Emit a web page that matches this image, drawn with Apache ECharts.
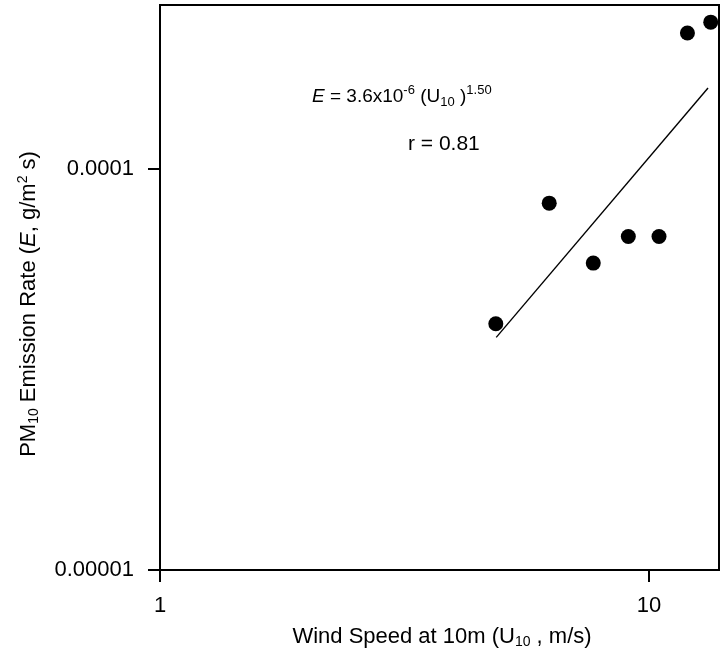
<!DOCTYPE html>
<html>
<head>
<meta charset="utf-8">
<script src="https://cdn.jsdelivr.net/npm/echarts@6/dist/echarts.min.js"></script>
<style>
html,body{margin:0;padding:0;background:#fff;}
#chart{width:725px;height:663px;}
</style>
</head>
<body>
<div id="chart"></div>
<script>
// ---- data ----
var windSpeed = [4.86, 6.25, 7.69, 9.07, 10.48, 11.98, 13.37];
var emission  = [4.11e-5, 8.21e-5, 5.82e-5, 6.78e-5, 6.78e-5, 2.18e-4, 2.32e-4];
// fitted power-law line endpoints (as drawn in the picture)
var fitX = [4.87, 13.2];
var fitY = [3.80e-5, 1.59e-4];
// axis ticks
var xTickValues = [1, 10];
var xTickLabels = ['1', '10'];
var yTickValues = [0.00001, 0.0001];
var yTickLabels = ['0.00001', '0.0001'];
var xRange = [1, 13.9];
var yRange = [0.00001, 0.000256];

function labelFor(values, labels) {
  return function (v) {
    for (var i = 0; i < values.length; i++) {
      if (Math.abs(v - values[i]) <= values[i] * 1e-6) return labels[i];
    }
    return '';
  };
}

var FONT = '"Liberation Sans", Arial, sans-serif';
var chart = echarts.init(document.getElementById('chart'), null, {renderer: 'canvas'});

var subStyle = {fontSize: 14, fontFamily: FONT, fill: '#000', padding: [11, 0, 0, 0]};
var supStyle = {fontSize: 14, fontFamily: FONT, fill: '#000', padding: [0, 0, 11, 0]};
var eqSub = {fontSize: 13, fontFamily: FONT, fill: '#000', padding: [11, 0, 0, 0]};
var eqSup = {fontSize: 13, fontFamily: FONT, fill: '#000', padding: [0, 0, 13, 0]};

var option = {
  animation: false,
  backgroundColor: '#fff',
  grid: {
    left: 160, top: 5, right: 6, bottom: 93,
    show: true, borderColor: '#000', borderWidth: 2, backgroundColor: 'transparent'
  },
  xAxis: {
    type: 'log', logBase: 10, min: xRange[0], max: xRange[1],
    axisLine: {show: true, onZero: false, lineStyle: {color: '#000', width: 2}},
    axisTick: {show: true, inside: false, length: 12, customValues: xTickValues, lineStyle: {color: '#000', width: 2}},
    minorTick: {show: false},
    splitLine: {show: false},
    axisLabel: {customValues: xTickValues, formatter: labelFor(xTickValues, xTickLabels),
      color: '#000', fontFamily: FONT, fontSize: 22, margin: 25, showMinLabel: true, showMaxLabel: true}
  },
  yAxis: {
    type: 'log', logBase: 10, min: yRange[0], max: yRange[1],
    axisLine: {show: true, onZero: false, lineStyle: {color: '#000', width: 2}},
    axisTick: {show: true, inside: false, length: 12, customValues: yTickValues, lineStyle: {color: '#000', width: 2}},
    minorTick: {show: false},
    splitLine: {show: false},
    axisLabel: {customValues: yTickValues, formatter: labelFor(yTickValues, yTickLabels),
      color: '#000', fontFamily: FONT, fontSize: 22, margin: 26, showMinLabel: true, showMaxLabel: true}
  },
  series: [
    {
      type: 'scatter',
      data: windSpeed.map(function (x, i) { return [x, emission[i]]; }),
      symbol: 'circle', symbolSize: 15,
      itemStyle: {color: '#000', opacity: 1},
      z: 3
    },
    {
      type: 'line',
      data: fitX.map(function (x, i) { return [x, fitY[i]]; }),
      showSymbol: false, symbol: 'none',
      lineStyle: {color: '#000', width: 1.4},
      z: 2
    }
  ],
  graphic: [
    {
      type: 'text', x: 442, y: 637,
      style: {
        text: 'Wind Speed at 10m (U{sub|10} , m/s)',
        font: '22px ' + FONT, fill: '#000', align: 'center', verticalAlign: 'middle',
        rich: {sub: subStyle}
      }
    },
    {
      type: 'text', x: 29, y: 304, rotation: Math.PI / 2,
      style: {
        text: 'PM{sub|10} Emission Rate ({it|E}, g/m{sup|2} s)',
        font: '22px ' + FONT, fill: '#000', align: 'center', verticalAlign: 'middle',
        rich: {
          sub: subStyle,
          sup: supStyle,
          it: {fontSize: 22, fontFamily: FONT, fontStyle: 'italic', fill: '#000'}
        }
      }
    },
    {
      type: 'text', x: 312, y: 97,
      style: {
        text: '{it|E} = 3.6x10{sup|-6} (U{sub|10} ){sup|1.50}',
        font: '19px ' + FONT, fill: '#000', align: 'left', verticalAlign: 'middle',
        rich: {
          sub: eqSub,
          sup: eqSup,
          it: {fontSize: 19, fontFamily: FONT, fontStyle: 'italic', fill: '#000'}
        }
      }
    },
    {
      type: 'text', x: 408, y: 144,
      style: {
        text: 'r = 0.81',
        font: '21px ' + FONT, fill: '#000', align: 'left', verticalAlign: 'middle'
      }
    }
  ]
};
chart.setOption(option);
</script>
</body>
</html>
